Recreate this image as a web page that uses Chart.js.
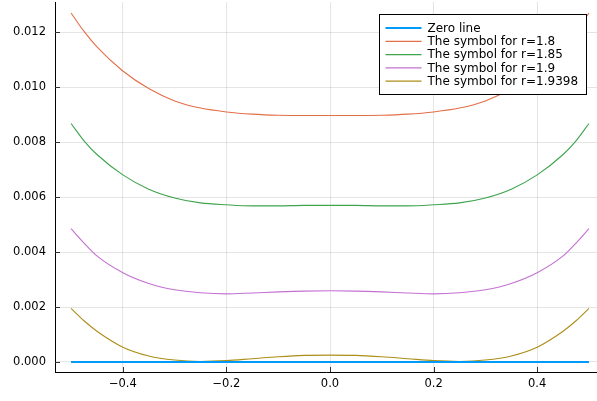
<!DOCTYPE html>
<html>

<head>
    <title>Symbol curves</title>
    <script src="https://cdn.jsdelivr.net/npm/chart.js"></script>
    <style>
        body {
            margin: 0;
            background: #ffffff;
        }

        .chart-container {
            position: relative;
            width: 597px;
            height: 401px;
        }
    </style>
</head>

<body>
    <div class="chart-container">
        <canvas id="symbolChart"></canvas>
    </div>

    <script>
        // x samples (denser near the edges where the curves bend fast)
        const xs = [-0.5, -0.475, -0.45, -0.4, -0.35, -0.3, -0.25, -0.2, -0.15, -0.1, -0.05, 0,
            0.05, 0.1, 0.15, 0.2, 0.25, 0.3, 0.35, 0.4, 0.45, 0.475, 0.5];

        const zeroLine = [0, 0, 0, 0, 0, 0, 0, 0, 0, 0, 0, 0, 0, 0, 0, 0, 0, 0, 0, 0, 0, 0, 0];
        const r180 = [0.01270, 0.01203, 0.01147, 0.01059, 0.00995, 0.00950, 0.00924, 0.00910, 0.00902, 0.00898, 0.00897, 0.00897,
            0.00897, 0.00898, 0.00902, 0.00910, 0.00924, 0.00950, 0.00995, 0.01059, 0.01147, 0.01203, 0.01270];
        const r185 = [0.00868, 0.00805, 0.00755, 0.00681, 0.00629, 0.00597, 0.00579, 0.00572, 0.00568, 0.00568, 0.00570, 0.00570,
            0.00570, 0.00568, 0.00568, 0.00572, 0.00579, 0.00597, 0.00629, 0.00681, 0.00755, 0.00805, 0.00868];
        const r190 = [0.00485, 0.00433, 0.00386, 0.00325, 0.00286, 0.00263, 0.00252, 0.00248, 0.00251, 0.00255, 0.00258, 0.00259,
            0.00258, 0.00255, 0.00251, 0.00248, 0.00252, 0.00263, 0.00286, 0.00325, 0.00386, 0.00433, 0.00485];
        const r19398 = [0.00195, 0.00150, 0.00112, 0.00054, 0.00022, 0.00007, 0.00002, 0.00005, 0.00012, 0.00019, 0.00024, 0.00025,
            0.00024, 0.00019, 0.00012, 0.00005, 0.00002, 0.00007, 0.00022, 0.00054, 0.00112, 0.00150, 0.00195];

        const labels = ['Zero line', 'The symbol for r=1.8', 'The symbol for r=1.85',
            'The symbol for r=1.9', 'The symbol for r=1.9398'];
        const colors = ['#009AFA', '#E36F47', '#3EA44E', '#C371D2', '#AC8E18'];
        const series = [zeroLine, r180, r185, r190, r19398];

        const xTicks = [-0.4, -0.2, 0, 0.2, 0.4];
        const yTicks = [0, 0.002, 0.004, 0.006, 0.008, 0.010, 0.012];

        const FONT = 'DejaVu Sans';

        // inward tick marks + boxed legend, like the GR backend
        const frame = {
            id: 'frame',
            afterDraw(chart) {
                const c = chart.ctx;
                const area = chart.chartArea;
                const sx = chart.scales.x, sy = chart.scales.y;
                c.save();
                c.strokeStyle = '#333';
                c.lineWidth = 1;
                c.beginPath();
                yTicks.forEach(v => {
                    const py = Math.round(sy.getPixelForValue(v)) + 0.5;
                    c.moveTo(area.left, py);
                    c.lineTo(area.left + 5, py);
                });
                xTicks.forEach(v => {
                    const px = Math.round(sx.getPixelForValue(v)) + 0.5;
                    c.moveTo(px, area.bottom);
                    c.lineTo(px, area.bottom - 5);
                });
                c.stroke();

                // legend
                const bx = 379.5, by = 14.5, bw = 207, bh = 80;
                c.fillStyle = '#ffffff';
                c.fillRect(bx, by, bw, bh);
                c.strokeStyle = '#000';
                c.strokeRect(bx, by, bw, bh);
                c.font = '12px ' + FONT;
                c.textBaseline = 'middle';
                chart.data.datasets.forEach((ds, i) => {
                    const y = by + 13.5 + i * 13.3;
                    c.strokeStyle = ds.borderColor;
                    c.lineWidth = i === 0 ? 2 : 1.3;
                    c.beginPath();
                    c.moveTo(bx + 6, y);
                    c.lineTo(bx + 42, y);
                    c.stroke();
                    c.fillStyle = '#000';
                    c.fillText(ds.label, bx + 48, y + 0.5);
                });
                c.restore();
            }
        };

        const ctx = document.getElementById('symbolChart').getContext('2d');
        const chart = new Chart(ctx, {
            type: 'line',
            data: {
                datasets: series.map((s, i) => ({
                    label: labels[i],
                    data: xs.map((x, j) => ({ x: x, y: s[j] })),
                    borderColor: colors[i],
                    borderWidth: i === 0 ? 2 : 1.1,
                    pointRadius: 0,
                    cubicInterpolationMode: 'monotone',
                    fill: false
                }))
            },
            options: {
                responsive: true,
                maintainAspectRatio: false,
                animation: false,
                layout: { padding: { top: 2, right: 0, left: 0, bottom: 0 } },
                plugins: {
                    legend: { display: false },
                    tooltip: { enabled: false }
                },
                scales: {
                    x: {
                        type: 'linear',
                        min: -0.531,
                        max: 0.5155,
                        afterFit: s => {
                            s.height = 29;
                            s.paddingLeft = 0;
                            s.paddingRight = 0;
                        },
                        afterBuildTicks: s => { s.ticks = xTicks.map(v => ({ value: v })); },
                        grid: { color: 'rgba(0,0,0,0.1)', drawTicks: false },
                        border: { color: '#000', width: 1 },
                        ticks: {
                            padding: 5,
                            color: '#000',
                            font: { family: FONT, size: 11.5 },
                            callback: v => (v < 0 ? '\u2212' : '') + Math.abs(v).toFixed(1)
                        }
                    },
                    y: {
                        type: 'linear',
                        min: -0.000364,
                        max: 0.01310,
                        afterFit: s => {
                            s.width = 55;
                            s.paddingTop = 0;
                            s.paddingBottom = 0;
                        },
                        afterBuildTicks: s => { s.ticks = yTicks.map(v => ({ value: v })); },
                        grid: { color: 'rgba(0,0,0,0.1)', drawTicks: false },
                        border: { color: '#000', width: 1 },
                        ticks: {
                            padding: 9,
                            color: '#000',
                            font: { family: FONT, size: 11.5 },
                            callback: v => v.toFixed(3)
                        }
                    }
                }
            },
            plugins: [frame]
        });
    </script>
</body>

</html>
